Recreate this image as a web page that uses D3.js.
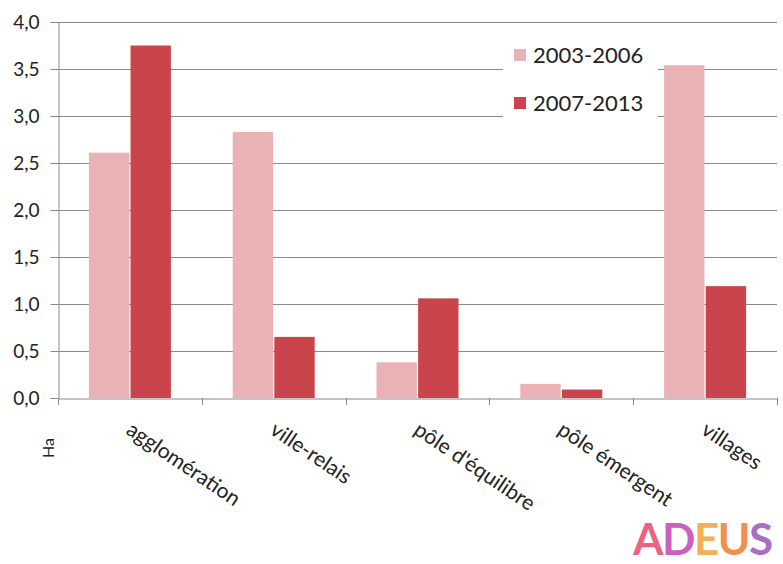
<!DOCTYPE html>
<html><head><meta charset="utf-8">
<script src="https://cdn.jsdelivr.net/npm/d3@7"></script>
<style>body{margin:0;background:#fff}svg{display:block}</style>
</head><body>
<svg id="c" width="783" height="564"></svg>
<script>
const categories = ["agglomération","ville-relais","pôle d'équilibre","pôle émergent","villages"];
const seriesNames = ["2003-2006","2007-2013"];
const values2003 = [2.61, 2.83, 0.38, 0.15, 3.54];
const values2007 = [3.75, 0.65, 1.06, 0.09, 1.19];
const yTicks = [0,0.5,1,1.5,2,2.5,3,3.5,4];
const colors = ["#e9b3b6","#c9444b"];

(function(){
const svg = d3.select("#c");
const font = "Lato, 'Open Sans', sans-serif";
const mLeft = 58, mRight = 777, mTop = 22, mBottom = 398;
const x = d3.scaleBand().domain(categories).range([mLeft, mRight]);
const y = d3.scaleLinear().domain([0,4]).range([mBottom, mTop]);
const inner = d3.scaleBand().domain(seriesNames).range([0, 82]).paddingInner(0.03);

// gridlines
svg.append("g").selectAll("line").data(yTicks.filter(d=>d>0)).join("line")
  .attr("x1", mLeft).attr("x2", mRight).attr("y1", d=>y(d)+0.5).attr("y2", d=>y(d)+0.5)
  .attr("stroke", "#8a8a8a").attr("stroke-width", 1);

// y axis
const ya = svg.append("g").attr("transform", `translate(${mLeft+0.5},0)`)
  .call(d3.axisLeft(y).tickValues(yTicks).tickSize(8).tickPadding(11)
    .tickFormat(d => d3.format(".1f")(d).replace(".", ",")));
ya.select(".domain").attr("stroke", "#8a8a8a");
ya.selectAll(".tick line").attr("stroke", "#8a8a8a");
ya.selectAll(".tick text").attr("font-family", font).attr("font-size", 19).attr("fill", "#222");

// bars
const data = categories.map((c,i)=>({c, v:[values2003[i], values2007[i]]}));
const g = svg.append("g");
data.forEach(d => {
  const cx = x(d.c) + x.bandwidth()/2 - 41;
  seriesNames.forEach((s,j) => {
    g.append("rect")
      .attr("x", cx + inner(s)).attr("width", inner.bandwidth())
      .attr("y", y(d.v[j])).attr("height", y(0) - y(d.v[j]))
      .attr("fill", colors[j]);
  });
});

// x axis
const xa = svg.append("g").attr("transform", `translate(0,${mBottom+0.5})`)
  .call(d3.axisBottom(x).tickSize(0).tickFormat(""));
xa.select(".domain").attr("stroke", "#8a8a8a");
const bounds = categories.map(c => x(c)).concat([mRight]);
svg.append("g").selectAll("line").data(bounds).join("line")
  .attr("x1", d=>Math.round(d)+0.5).attr("x2", d=>Math.round(d)+0.5)
  .attr("y1", mBottom).attr("y2", mBottom+7).attr("stroke", "#8a8a8a");

// x labels
svg.append("g").selectAll("text").data(categories).join("text")
  .attr("transform", c => `translate(${x(c)+x.bandwidth()/2-5},${mBottom+35}) rotate(34)`)
  .attr("font-family", font).attr("font-size", 21).attr("fill", "#222")
  .text(c => c);

// Ha
svg.append("text").attr("transform", "translate(54,448) rotate(-90)")
  .attr("text-anchor","middle").attr("font-family", font).attr("font-size", 16).attr("fill","#222").text("Ha");

// legend
const lg = svg.append("g");
lg.append("rect").attr("x", 503).attr("y", 30).attr("width", 155).attr("height", 92).attr("fill", "#fff");
seriesNames.forEach((s,i) => {
  const yy = 55 + i*48;
  lg.append("rect").attr("x", 514).attr("y", yy-6).attr("width", 12).attr("height", 12).attr("fill", colors[i]);
  lg.append("text").attr("x", 533).attr("y", yy+8).attr("font-family", font).attr("font-size", 22).attr("fill","#222").text(s);
});

// logo
const logo = [["A","#e6476c"],["D","#c243b5"],["E","#f2a23a"],["U","#f07a2e"],["S","#9b55b8"]];
const lt = svg.append("text").attr("x", 633).attr("y", 555).attr("font-family", font)
  .attr("font-size", 44).attr("font-weight", "bold").attr("letter-spacing", -1.5);
logo.forEach(([ch,col]) => lt.append("tspan").attr("fill", col).attr("fill-opacity",0.85).text(ch));
})();
</script>
</body></html>
